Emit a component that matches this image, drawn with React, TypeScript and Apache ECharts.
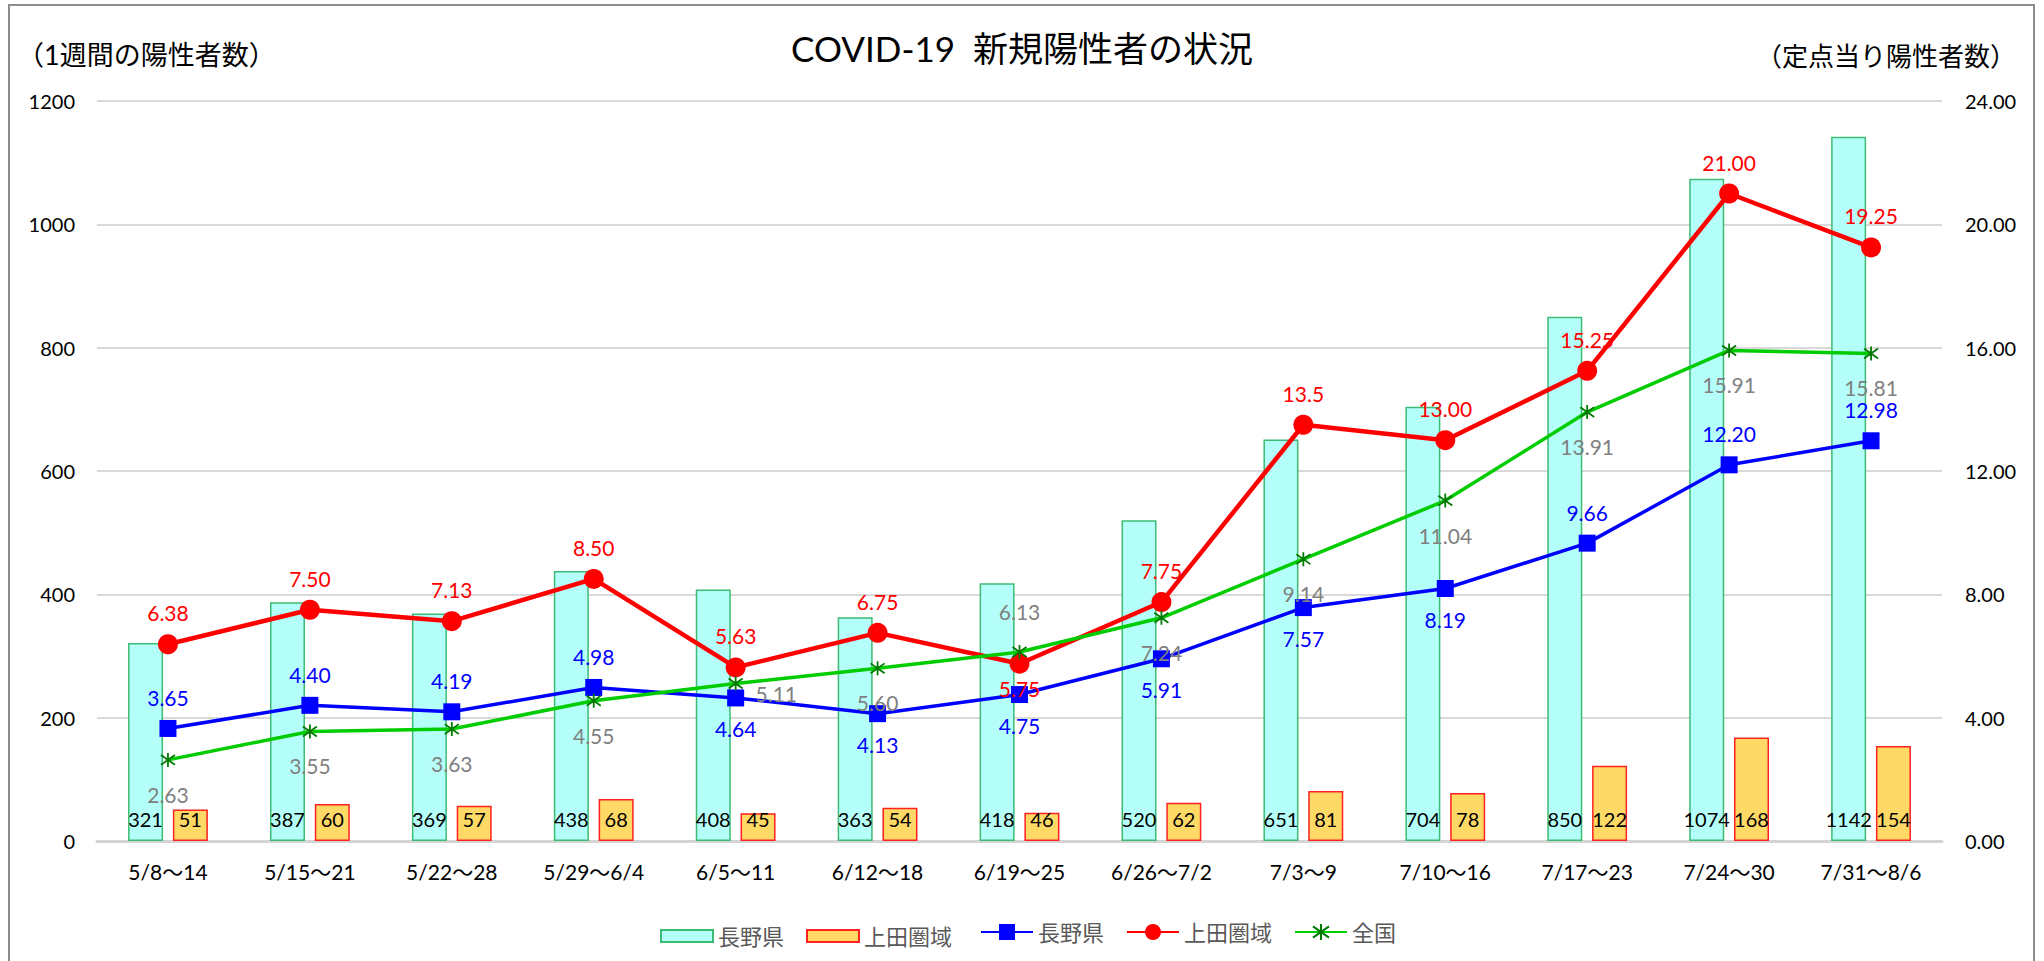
import React, { useEffect, useRef } from "react";
import * as echarts from "echarts";

const categories = ["5/8～14", "5/15～21", "5/22～28", "5/29～6/4", "6/5～11", "6/12～18", "6/19～25", "6/26～7/2", "7/3～9", "7/10～16", "7/17～23", "7/24～30", "7/31～8/6"];
const naganoWeekly = [321, 387, 369, 438, 408, 363, 418, 520, 651, 704, 850, 1074, 1142];
const uedaWeekly = [51, 60, 57, 68, 45, 54, 46, 62, 81, 78, 122, 168, 154];
const naganoPerSite = ["3.65", "4.40", "4.19", "4.98", "4.64", "4.13", "4.75", "5.91", "7.57", "8.19", "9.66", "12.20", "12.98"];
const uedaPerSite = ["6.38", "7.50", "7.13", "8.50", "5.63", "6.75", "5.75", "7.75", "13.5", "13.00", "15.25", "21.00", "19.25"];
const nationalPerSite = ["2.63", "3.55", "3.63", "4.55", "5.11", "5.60", "6.13", "7.24", "9.14", "11.04", "13.91", "15.91", "15.81"];

// label placement per point (style only)
const naganoLabelPos = ["top", "top", "top", "top", "bottom", "bottom", "bottom", "bottom", "bottom", "bottom", "top", "top", "top"];
const uedaLabelPos = ["top", "top", "top", "top", "top", "top", "bottom", "top", "top", "top", "top", "top", "top"];
const nationalLabelPos = ["bottom", "bottom", "bottom", "bottom", "right", "bottom", "top", "bottom", "bottom", "bottom", "bottom", "bottom", "bottom"];

const FONT = "Lato, 'Noto Sans CJK JP', sans-serif";

const legendNames: Record<string, string> = {
  "長野県(週)": "長野県",
  "上田圏域(週)": "上田圏域",
  "長野県(定点)": "長野県",
  "上田圏域(定点)": "上田圏域",
  "全国(定点)": "全国",
};

const ASTERISK = "path://M10,0L10,20M2.93,2.93L17.07,17.07M17.07,2.93L2.93,17.07";

function lineData(values: string[], pos: string[], dist: Record<string, number>) {
  return values.map((v, i) => {
    const p = pos[i];
    const label: any = { position: p, distance: dist[p] };
    if (p === "right") label.offset = [0, 10];
    return { value: Number(v), label };
  });
}

export default function App() {
  const ref = useRef<HTMLDivElement>(null);
  useEffect(() => {
    if (!ref.current) return;
    const chart = echarts.init(ref.current, null, { renderer: "svg" });
    const option: any = {
      animation: false,
      backgroundColor: "#ffffff",
      textStyle: { fontFamily: FONT },
      graphic: [
        {
          type: "rect",
          silent: true,
          shape: { x: 9, y: 5, width: 2025, height: 1000 },
          style: { fill: "none", stroke: "#8C8C8C", lineWidth: 2 },
        },
        {
          type: "text",
          x: 1022,
          y: 48,
          style: {
            text: "COVID-19  新規陽性者の状況",
            font: `35px ${FONT}`,
            fill: "#000",
            textAlign: "center",
            textVerticalAlign: "middle",
          },
        },
        {
          type: "text",
          x: 17,
          y: 54,
          style: {
            text: "（1週間の陽性者数）",
            font: `27px ${FONT}`,
            fill: "#000",
            textAlign: "left",
            textVerticalAlign: "middle",
          },
        },
        {
          type: "text",
          x: 2016,
          y: 56,
          style: {
            text: "（定点当り陽性者数）",
            font: `26px ${FONT}`,
            fill: "#000",
            textAlign: "right",
            textVerticalAlign: "middle",
          },
        },
      ],
      legend: [
        {
          left: 655,
          top: 920,
          itemWidth: 52,
          itemHeight: 12,
          itemGap: 22,
          icon: "rect",
          data: ["長野県(週)", "上田圏域(週)"],
          formatter: (n: string) => legendNames[n] || n,
          textStyle: { fontSize: 22, color: "#595959", fontFamily: FONT },
        },
        {
          left: 975,
          top: 916,
          itemWidth: 52,
          itemHeight: 20,
          itemGap: 22,
          data: ["長野県(定点)", "上田圏域(定点)", "全国(定点)"],
          formatter: (n: string) => legendNames[n] || n,
          textStyle: { fontSize: 22, color: "#595959", fontFamily: FONT },
        },
      ],
      grid: { left: 97, right: 102, top: 101, bottom: 120, containLabel: false },
      xAxis: {
        type: "category",
        data: categories,
        axisTick: { show: false },
        axisLine: { lineStyle: { color: "#D4D4D4", width: 3 } },
        axisLabel: { fontSize: 21, color: "#000", margin: 20, interval: 0, fontFamily: FONT },
      },
      yAxis: [
        {
          type: "value",
          min: 0,
          max: 1200,
          interval: 200,
          axisLine: { show: false },
          axisTick: { show: false },
          axisLabel: {
            fontSize: 20,
            color: "#000",
            margin: 22,
            fontFamily: FONT,
            formatter: (v: number) => String(v),
          },
          splitLine: { lineStyle: { color: "#CCCCCC", width: 1.5 } },
        },
        {
          type: "value",
          min: 0,
          max: 24,
          interval: 4,
          position: "right",
          axisLine: { show: false },
          axisTick: { show: false },
          axisLabel: {
            fontSize: 20,
            color: "#000",
            margin: 23,
            fontFamily: FONT,
            formatter: (v: number) => v.toFixed(2),
          },
          splitLine: { show: false },
        },
      ],
      series: [
        {
          name: "長野県(週)",
          type: "bar",
          yAxisIndex: 0,
          data: naganoWeekly,
          barWidth: 35,
          barGap: "28%",
          itemStyle: { color: "#B5FFFB", borderColor: "#3DBB74", borderWidth: 1.5 },
          label: {
            show: true,
            position: "insideBottom",
            distance: 12,
            fontSize: 20,
            color: "#000",
            fontFamily: FONT,
          },
        },
        {
          name: "上田圏域(週)",
          type: "bar",
          yAxisIndex: 0,
          data: uedaWeekly,
          barWidth: 35,
          barGap: "28%",
          itemStyle: { color: "#FFD966", borderColor: "#FF2020", borderWidth: 1.5 },
          label: {
            show: true,
            position: "insideBottom",
            distance: 12,
            fontSize: 20,
            color: "#000",
            fontFamily: FONT,
          },
        },
        {
          name: "長野県(定点)",
          type: "line",
          yAxisIndex: 1,
          data: lineData(naganoPerSite, naganoLabelPos, { top: 12, bottom: 12 }),
          symbol: "rect",
          symbolSize: 17,
          lineStyle: { color: "#0000FF", width: 3.5 },
          itemStyle: { color: "#0000FF" },
          label: {
            show: true,
            fontSize: 21,
            color: "#0000FF",
            fontFamily: FONT,
            formatter: (p: any) => naganoPerSite[p.dataIndex],
          },
        },
        {
          name: "上田圏域(定点)",
          type: "line",
          yAxisIndex: 1,
          data: lineData(uedaPerSite, uedaLabelPos, { top: 11, bottom: 4 }),
          symbol: "circle",
          symbolSize: 20,
          lineStyle: { color: "#FF0000", width: 4.5 },
          itemStyle: { color: "#FF0000" },
          label: {
            show: true,
            fontSize: 21,
            color: "#FF0000",
            fontFamily: FONT,
            formatter: (p: any) => uedaPerSite[p.dataIndex],
          },
        },
        {
          name: "全国(定点)",
          type: "line",
          yAxisIndex: 1,
          data: lineData(nationalPerSite, nationalLabelPos, { top: 22, bottom: 16, right: 12 }),
          symbol: ASTERISK,
          symbolSize: 14,
          lineStyle: { color: "#00CC00", width: 3.5 },
          itemStyle: { color: "rgba(0,0,0,0)", borderColor: "#007A00", borderWidth: 1.8 },
          label: {
            show: true,
            fontSize: 21,
            color: "#808080",
            fontFamily: FONT,
            formatter: (p: any) => nationalPerSite[p.dataIndex],
          },
        },
      ],
    };
    chart.setOption(option);
    return () => chart.dispose();
  }, []);
  return (
    <div
      ref={ref}
      style={{ position: "fixed", left: 0, top: 0, width: 2044, height: 961, background: "#fff" }}
    />
  );
}
